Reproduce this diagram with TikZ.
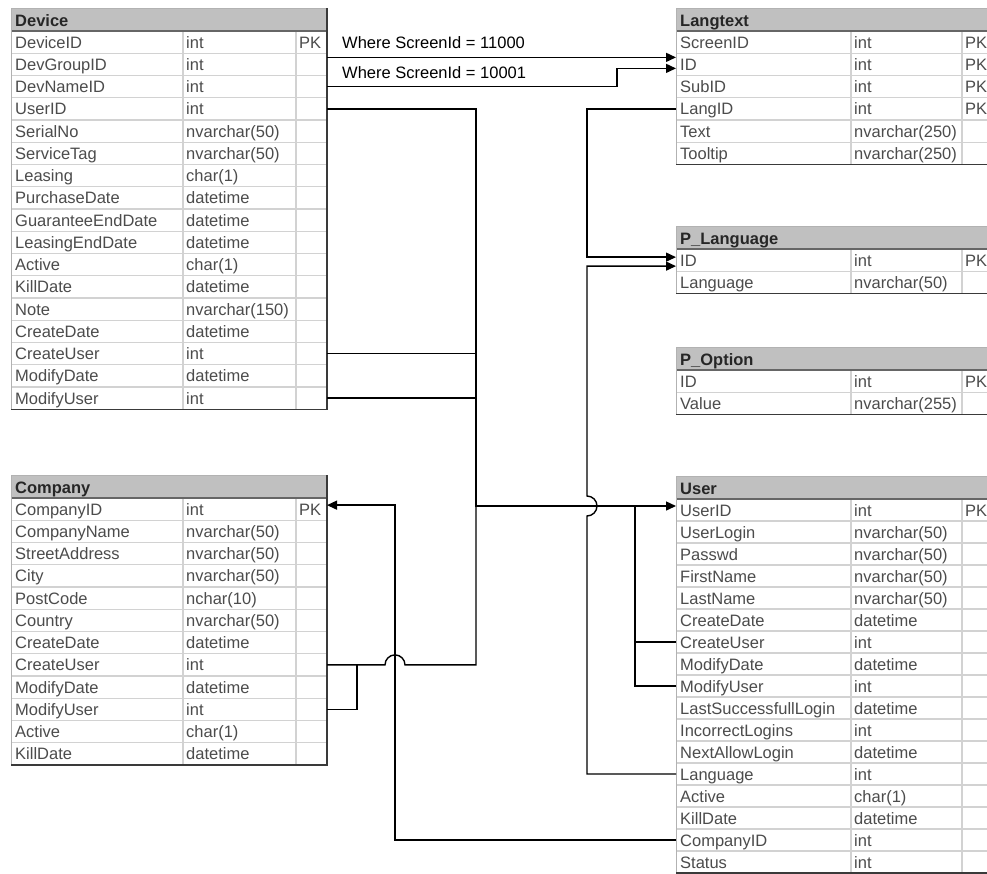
\documentclass[tikz,border=0pt]{standalone}
\usepackage{fontspec}
\setmainfont{Liberation Sans}
\usetikzlibrary{arrows.meta,calc}
\definecolor{hdfill}{HTML}{C0C0C0}
\definecolor{gridc}{HTML}{D2D2D2}
\definecolor{celltxt}{HTML}{4C4C4C}
\definecolor{edgec}{HTML}{3A3A3A}
\tikzset{
 cell/.style={inner sep=0pt, anchor=base west, text=celltxt, font=\fontsize{16.5}{18}\selectfont},
 headtxt/.style={inner sep=0pt, anchor=base west, text=black!85, font=\fontsize{16.5}{18}\selectfont\bfseries},
 gridline/.style={draw=gridc, line width=1.2pt},
 hdline/.style={draw=black!60, line width=1.5pt},
 edgeline/.style={draw=edgec, line width=1.5pt},
 lightedge/.style={draw=black!30, line width=1pt},
 conn/.style={draw=black, line width=1.4pt},
 arr/.style={conn, -{Triangle[length=10pt,width=9pt]}},
 lbl/.style={inner sep=0pt, anchor=base west, font=\fontsize{16.5}{18}\selectfont},
}
\def\rowh{22.25}
% #1 id, #2 x0, #3 c1, #4 c2, #5 x1, #6 ytop, #7 title, #8 nrows, #9 rows
\newcommand{\dbtable}[9]{%
 \pgfmathsetmacro{\tbot}{#6+23+#8*\rowh}
 \fill[hdfill] (#2,-#6) rectangle (#5,-#6-23);
 \node[headtxt] (#1-head) at (#2+4,-#6-18) {#7};
 \foreach \fa/\fb/\fc [count=\i from 0] in {#9}{
   \pgfmathsetmacro{\yc}{#6+23+(\i+0.5)*\rowh}
   \pgfmathsetmacro{\yb}{\yc+0.5*\rowh}
   \draw[gridline] (#2,-\yb) -- (#5,-\yb);
   \node[cell] (#1-\i-n) at (#2+4,-\yc-6) {\fa};
   \node[cell] (#1-\i-t) at (#3+3,-\yc-6) {\fb};
   \node[cell] (#1-\i-k) at (#4+3,-\yc-6) {\fc};
   \coordinate (#1-\i-w) at (#2,-\yc);
   \coordinate (#1-\i-e) at (#5,-\yc);
 }
 \draw[gridline] (#3,-#6-23) -- (#3,-\tbot);
 \draw[gridline] (#4,-#6-23) -- (#4,-\tbot);
 \draw[hdline] (#2,-#6-23) -- (#5,-#6-23);
 \draw[lightedge] (#2,-\tbot) -- (#2,-#6) -- (#5,-#6);
 \draw[edgeline] (#5,-#6) -- (#5,-\tbot) -- (#2,-\tbot);
}
\begin{document}
\begin{tikzpicture}[x=1pt,y=1pt]
\useasboundingbox (0,0) rectangle (987,-873);
\clip (0,0) rectangle (987,-873);
\fill[white] (0,0) rectangle (987,-873);

\dbtable{dev}{11}{183}{296}{327}{8}{Device}{17}{DeviceID/int/PK, DevGroupID/int/{}, DevNameID/int/{}, UserID/int/{}, SerialNo/nvarchar(50)/{}, ServiceTag/nvarchar(50)/{}, Leasing/char(1)/{}, PurchaseDate/datetime/{}, GuaranteeEndDate/datetime/{}, LeasingEndDate/datetime/{}, Active/char(1)/{}, KillDate/datetime/{}, Note/nvarchar(150)/{}, CreateDate/datetime/{}, CreateUser/int/{}, ModifyDate/datetime/{}, ModifyUser/int/{}}

\dbtable{cmp}{11}{183}{296}{327}{475}{Company}{12}{CompanyID/int/PK, CompanyName/nvarchar(50)/{}, StreetAddress/nvarchar(50)/{}, City/nvarchar(50)/{}, PostCode/nchar(10)/{}, Country/nvarchar(50)/{}, CreateDate/datetime/{}, CreateUser/int/{}, ModifyDate/datetime/{}, ModifyUser/int/{}, Active/char(1)/{}, KillDate/datetime/{}}

\dbtable{lt}{676}{851}{962}{1000}{8}{Langtext}{6}{ScreenID/int/PK, ID/int/PK, SubID/int/PK, LangID/int/PK, Text/nvarchar(250)/{}, Tooltip/nvarchar(250)/{}}

\dbtable{pl}{676}{851}{962}{1000}{226}{P\_Language}{2}{ID/int/PK, Language/nvarchar(50)/{}}

\dbtable{po}{676}{851}{962}{1000}{347}{P\_Option}{2}{ID/int/PK, Value/nvarchar(255)/{}}

\def\rowh{22.0}
\dbtable{usr}{676}{851}{962}{1000}{476}{User}{17}{UserID/int/PK, UserLogin/nvarchar(50)/{}, Passwd/nvarchar(50)/{}, FirstName/nvarchar(50)/{}, LastName/nvarchar(50)/{}, CreateDate/datetime/{}, CreateUser/int/{}, ModifyDate/datetime/{}, ModifyUser/int/{}, LastSuccessfullLogin/datetime/{}, IncorrectLogins/int/{}, NextAllowLogin/datetime/{}, Language/int/{}, Active/char(1)/{}, KillDate/datetime/{}, CompanyID/int/{}, Status/int/{}}

% helper coordinates
\coordinate (jx) at (476,0);
\coordinate (cx) at (395,0);
\coordinate (ux) at (635,0);
\coordinate (lx) at (587,0);
\coordinate (uid) at ($(usr-0-w)+(0,4)$);
\coordinate (cid) at ($(cmp-0-e)+(0,4)$);
\coordinate (plA) at ($(pl-0-w)+(0,3)$);
\coordinate (plB) at ($(pl-0-w)+(0,-6)$);
\coordinate (ltA) at ($(lt-1-w)+(0,7)$);
\coordinate (ltB) at ($(lt-1-w)+(0,-4)$);
\coordinate (hopL) at (lx |- uid);

% labels
\node[lbl] (lbl1) at (342,-48) {Where ScreenId = 11000};
\node[lbl] (lbl2) at (342,-78) {Where ScreenId = 10001};

% Device -> Langtext
\draw[arr] ($(dev-1-e)+(0,7)$) -- (ltA);
\draw[arr] (dev-2-e) -- ++(290,0) |- (ltB);

% Langtext.LangID -> P_Language.ID
\draw[arr] (lt-3-w) -- (lx |- lt-3-w) -- (lx |- plA) -- (plA);
% User.Language -> P_Language.ID (hop over UserID line)
\draw[arr] (usr-12-w) -- (lx |- usr-12-w) -- ($(hopL)+(0,-10)$) arc (-90:90:10) -- (lx |- plB) -- (plB);

% -> User.UserID
\draw[arr] (dev-3-e) -- (jx |- dev-3-e) -- (jx |- uid) -- (uid);
\draw[conn] (dev-14-e) -- (jx |- dev-14-e);
\draw[conn] (dev-16-e) -- (jx |- dev-16-e);
\draw[conn] (cmp-7-e) -- ($(cmp-7-e)+(58,0)$) arc (180:0:10) -- (jx |- cmp-7-e) -- (jx |- uid);
\draw[conn] (cmp-9-e) -- ++(30,0) -- ($(cmp-7-e)+(30,0)$);
\draw[conn] (usr-8-w) -- (ux |- usr-8-w) -- (ux |- uid);
\draw[conn] (usr-6-w) -- (ux |- usr-6-w);

% User.CompanyID -> Company.CompanyID
\draw[arr] (usr-15-w) -- (cx |- usr-15-w) -- (cx |- cid) -- (cid);
\end{tikzpicture}
\end{document}
